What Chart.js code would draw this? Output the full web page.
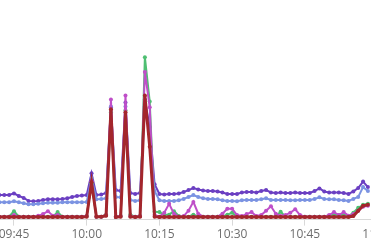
<!DOCTYPE html>
<html>
<head>
<meta charset="utf-8">
<script src="https://cdn.jsdelivr.net/npm/chart.js@4/dist/chart.umd.min.js"></script>
<style>
  html, body { margin: 0; padding: 0; background: #fff; overflow: hidden; width: 371px; height: 244px; }
  #wrap { position: absolute; left: -7px; top: 0; width: 408px; height: 244px; }
</style>
</head>
<body>
<div id="wrap"><canvas id="grafico"></canvas></div>
<script>
// one sample per minute, starting 09:42 (minutes since midnight)
const firstMinute = 9 * 60 + 42;
const sampleCount = 77;
const times = Array.from({ length: sampleCount }, (_, i) => firstMinute + i);

const tickMinutes = [585, 600, 615, 630, 645, 660];
const tickLabels = ["09:45", "10:00", "10:15", "10:30", "10:45", "11:00"];

const serieRoxa = [
  12.5, 12.5, 12.5, 13.3, 12.0, 11.0, 9.5, 9.3, 9.5, 10.0,
  10.3, 10.3, 10.3, 10.5, 10.8, 11.5, 12.0, 12.3, 12.5, 23.5,
  12.5, 12.8, 13.5, 57.0, 15.0, 14.5, 59.5, 13.5, 13.0, 13.5,
  61.0, 47.0, 18.0, 13.0, 12.8, 13.0, 13.0, 13.3, 14.0, 15.0,
  16.0, 15.3, 14.8, 14.5, 14.5, 14.3, 13.8, 13.0, 13.0, 13.0,
  13.8, 14.0, 14.0, 13.8, 14.5, 15.0, 13.8, 13.5, 13.8, 13.5,
  13.5, 13.8, 13.5, 13.5, 13.5, 14.5, 15.8, 14.3, 13.8, 13.8,
  13.8, 13.5, 13.0, 14.3, 16.0, 19.3, 16.5
];

const serieAzul = [
  8.8, 8.8, 8.8, 9.3, 8.8, 8.3, 7.8, 7.8, 8.0, 8.3,
  8.5, 8.5, 8.5, 8.8, 8.8, 8.8, 8.8, 8.8, 9.0, 21.0,
  10.3, 10.5, 10.8, 57.5, 11.5, 11.3, 57.5, 10.0, 9.5, 9.8,
  57.5, 43.0, 14.5, 9.8, 9.5, 9.5, 9.5, 9.8, 10.5, 11.5,
  12.5, 11.5, 10.8, 10.5, 10.5, 10.3, 9.8, 9.5, 9.5, 9.3,
  9.8, 10.0, 10.0, 10.0, 10.3, 10.8, 10.0, 10.0, 10.0, 10.0,
  9.8, 9.8, 10.0, 10.0, 10.0, 10.5, 11.3, 10.5, 10.3, 10.3,
  10.0, 9.8, 9.5, 10.5, 11.5, 16.5, 14.5
];

const serieVerde = [
  1.5, 1.5, 1.5, 4.3, 1.5, 1.5, 1.5, 1.5, 1.5, 1.5,
  1.5, 1.5, 3.8, 1.5, 1.5, 1.5, 1.5, 1.5, 1.8, 18.5,
  1.5, 1.5, 2.5, 54.5, 1.5, 1.8, 55.5, 2.5, 1.5, 1.8,
  82.5, 60.0, 4.0, 3.8, 2.5, 2.5, 4.3, 1.8, 1.5, 1.5,
  2.5, 1.5, 1.5, 1.5, 1.5, 1.5, 1.5, 2.5, 3.5, 1.5,
  1.5, 1.5, 1.5, 1.5, 1.5, 1.5, 1.5, 1.5, 4.0, 1.5,
  1.5, 1.5, 1.5, 1.5, 1.5, 1.5, 1.5, 1.5, 1.8, 2.5,
  2.3, 2.5, 1.8, 3.5, 6.0, 7.5, 8.0
];

const serieRosa = [
  1.5, 1.5, 1.5, 2.3, 1.5, 1.5, 1.5, 1.5, 2.0, 2.8,
  4.3, 2.0, 2.3, 1.5, 1.5, 1.5, 1.5, 1.5, 1.8, 19.5,
  1.5, 1.5, 2.3, 61.0, 1.5, 1.8, 63.0, 1.8, 1.5, 1.8,
  75.0, 57.0, 2.3, 1.5, 3.5, 8.0, 3.0, 1.5, 1.8, 4.5,
  9.0, 3.0, 1.5, 1.5, 1.5, 1.5, 3.0, 5.5, 5.5, 2.3,
  1.8, 2.8, 3.8, 1.8, 2.3, 4.5, 6.8, 3.0, 1.8, 2.3,
  3.5, 5.3, 2.3, 1.5, 1.5, 1.5, 1.5, 1.5, 2.3, 3.8,
  2.3, 3.8, 2.0, 2.8, 4.5, 6.5, 7.0
];

const serieVermelha = [
  1.3, 1.3, 1.3, 1.3, 1.3, 1.3, 1.3, 1.3, 1.3, 1.3,
  1.3, 1.3, 1.3, 1.3, 1.3, 1.3, 1.3, 1.3, 1.5, 19.0,
  1.5, 1.5, 2.0, 56.0, 1.3, 1.5, 54.5, 1.5, 1.3, 1.5,
  63.0, 37.0, 1.5, 1.3, 1.3, 1.3, 1.3, 1.3, 1.3, 1.3,
  1.3, 1.3, 1.3, 1.3, 1.3, 1.3, 1.3, 1.3, 1.3, 1.3,
  1.3, 1.3, 1.3, 1.3, 1.3, 1.3, 1.3, 1.3, 1.3, 1.3,
  1.3, 1.3, 1.3, 1.3, 1.3, 1.3, 1.3, 1.3, 1.3, 1.3,
  1.3, 1.3, 1.3, 1.8, 4.5, 7.0, 7.5
];

function pontos(valores) {
  return valores.map((v, i) => ({ x: times[i], y: v }));
}

function serie(valores, cor, largura) {
  return {
    data: pontos(valores),
    borderColor: cor,
    backgroundColor: cor,
    borderWidth: largura,
    pointRadius: 2,
    pointBorderWidth: 0,
    pointBackgroundColor: cor,
    tension: 0,
    fill: false
  };
}

const ctx = document.getElementById("grafico").getContext("2d");

// chart.js paints dataset 0 on top, so the red one comes first
new Chart(ctx, {
  type: "line",
  data: {
    datasets: [
      serie(serieVermelha, "#a3262c", 3),
      serie(serieRosa, "#bf4fc8", 2),
      serie(serieVerde, "#4fbf72", 2),
      serie(serieAzul, "#7b93e2", 2),
      serie(serieRoxa, "#6b3fc2", 2)
    ]
  },
  options: {
    responsive: true,
    maintainAspectRatio: false,
    animation: false,
    layout: { padding: 0 },
    plugins: {
      legend: { display: false },
      tooltip: { enabled: false }
    },
    scales: {
      x: {
        type: "linear",
        min: 581.5,
        max: 664,
        afterBuildTicks: (scale) => {
          scale.ticks = tickMinutes.map(v => ({ value: v }));
        },
        grid: {
          drawOnChartArea: false,
          drawTicks: true,
          tickLength: 6,
          color: "#d9d9d9"
        },
        border: { display: true, color: "#d9d9d9" },
        ticks: {
          autoSkip: false,
          maxRotation: 0,
          padding: 2,
          color: "#6e6e6e",
          font: { family: "'Open Sans'", size: 12 },
          callback: (value) => tickLabels[tickMinutes.indexOf(value)] ?? ""
        }
      },
      y: {
        display: false,
        min: 0,
        max: 109.5
      }
    }
  }
});
</script>
</body>
</html>
